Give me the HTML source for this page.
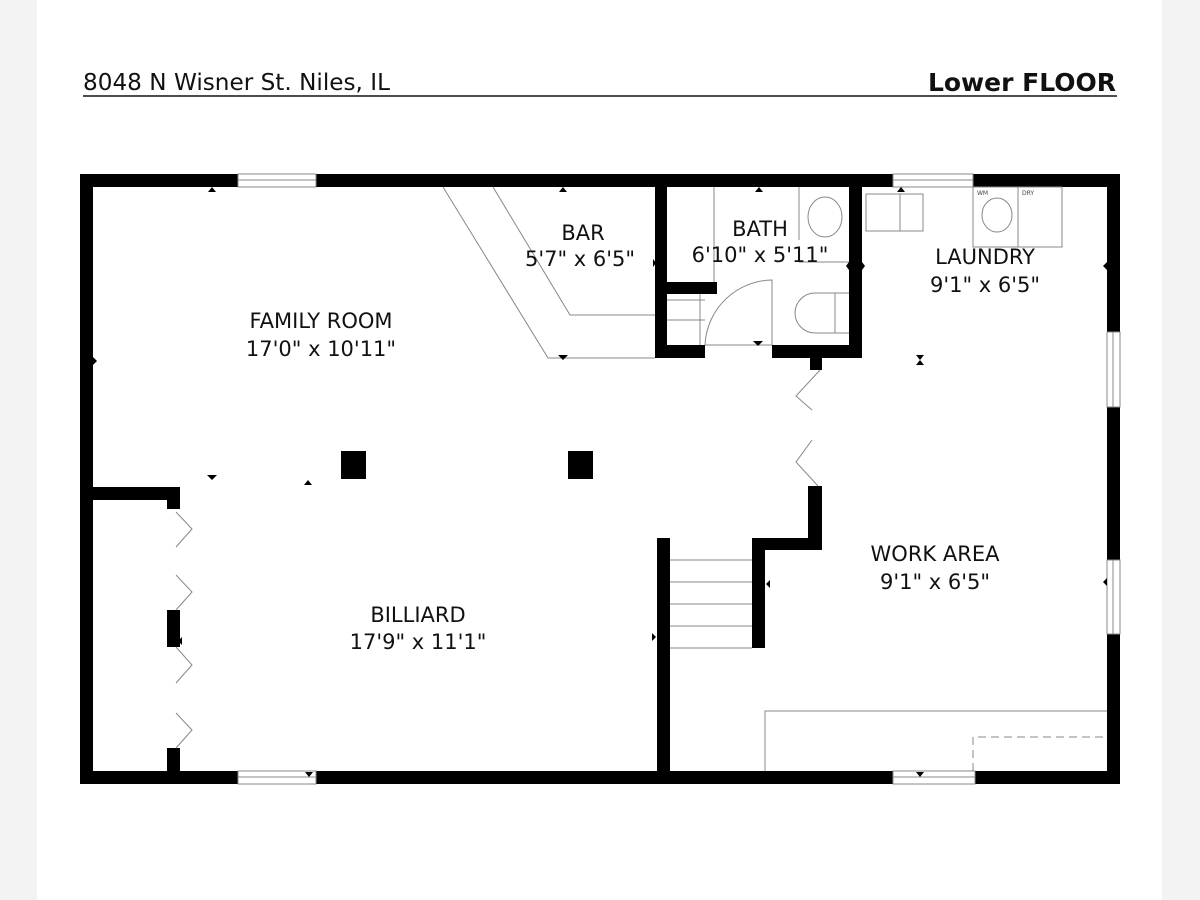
<!DOCTYPE html>
<html><head><style>
body{margin:0;background:#f3f3f3;}
.page{position:absolute;left:37px;top:0;width:1125px;height:900px;background:#fff;}
svg{position:absolute;left:0;top:0;}
text{font-family:"DejaVu Sans","Liberation Sans",sans-serif;}
</style></head><body>
<div class="page"></div>
<svg width="1200" height="900" viewBox="0 0 1200 900">
<text x="83" y="90" font-family="Liberation Sans" font-size="23" fill="#111" textLength="307" lengthAdjust="spacingAndGlyphs">8048 N Wisner St. Niles, IL</text>
<text x="1116" y="91" text-anchor="end" font-family="Liberation Sans" font-size="25" font-weight="bold" fill="#111">Lower FLOOR</text>
<line x1="83" y1="96" x2="1117" y2="96" stroke="#111" stroke-width="1.5"/>

<g fill="#000">
<rect x="80" y="174" width="1040" height="13"/>
<rect x="80" y="771" width="1040" height="13"/>
<rect x="80" y="174" width="13" height="610"/>
<rect x="1107" y="174" width="13" height="610"/>
<rect x="655" y="187" width="12" height="171"/>
<rect x="849" y="187" width="13" height="171"/>
<rect x="655" y="345" width="50" height="13"/>
<rect x="772" y="345" width="90" height="13"/>
<rect x="667" y="282" width="50" height="12"/>
<rect x="810" y="358" width="12" height="12"/>
<rect x="93" y="487" width="87" height="13"/>
<rect x="167" y="487" width="13" height="22"/>
<rect x="167" y="610" width="13" height="37"/>
<rect x="167" y="748" width="13" height="23"/>
<rect x="657" y="538" width="13" height="233"/>
<rect x="752" y="538" width="13" height="110"/>
<rect x="752" y="538" width="70" height="12"/>
<rect x="808" y="486" width="14" height="64"/>
<rect x="341" y="451" width="25" height="28"/>
<rect x="568" y="451" width="25" height="28"/>
</g>
<g fill="#fff" stroke="#888" stroke-width="1">
<rect x="238" y="174" width="78" height="13"/>
<rect x="893" y="174" width="80" height="13"/>
<rect x="238" y="771" width="78" height="13"/>
<rect x="893" y="771" width="82" height="13"/>
<rect x="1107" y="332" width="13" height="75"/>
<rect x="1107" y="560" width="13" height="74"/>
</g>
<g stroke="#888" stroke-width="1" fill="none">
<line x1="238" y1="180" x2="316" y2="180"/><line x1="893" y1="180" x2="973" y2="180"/>
<line x1="238" y1="777" x2="316" y2="777"/><line x1="893" y1="777" x2="975" y2="777"/>
<line x1="1113" y1="332" x2="1113" y2="407"/><line x1="1113" y1="560" x2="1113" y2="634"/>
<polyline points="443,187 548,358 655,358"/>
<polyline points="493,187 570,315 655,315"/>
<line x1="670" y1="560" x2="752" y2="560"/><line x1="670" y1="582" x2="752" y2="582"/>
<line x1="670" y1="604" x2="752" y2="604"/><line x1="670" y1="626" x2="752" y2="626"/>
<line x1="670" y1="648" x2="752" y2="648"/>
<polyline points="765,771 765,711 1107,711"/>
<polyline points="973,771 973,737 1107,737" stroke-dasharray="8,5"/>
<polyline points="176,512 192,529 176,547"/>
<polyline points="176,575 192,592 176,610"/>
<polyline points="176,647 192,665 176,683"/>
<polyline points="176,713 192,730 176,748"/>
<polyline points="820,370 796,396 812,410"/>
<polyline points="812,440 796,462 818,486"/>
<line x1="667" y1="300" x2="705" y2="300"/>
<line x1="667" y1="320" x2="705" y2="320"/>
<line x1="700" y1="294" x2="700" y2="345"/>
<line x1="714" y1="187" x2="714" y2="282"/>
<line x1="705" y1="345" x2="772" y2="345"/>
<path d="M705,345 A68,68 0 0 1 772,280 L772,345"/>
<line x1="799" y1="187" x2="799" y2="240"/>
<ellipse cx="825" cy="217" rx="17" ry="20"/>
<line x1="799" y1="262" x2="849" y2="262"/>
<path d="M849,293 L815,293 A20,20 0 0 0 815,333 L849,333"/>
<line x1="835" y1="293" x2="835" y2="333"/>
<rect x="866" y="194" width="57" height="37"/>
<line x1="900" y1="194" x2="900" y2="231"/>
<rect x="973" y="187" width="45" height="60"/>
<rect x="1018" y="187" width="44" height="60"/>
<ellipse cx="997" cy="215" rx="15" ry="17"/>
</g>
<g font-family="Liberation Sans" font-size="6" fill="#444"><text x="977" y="195">WM</text><text x="1022" y="195">DRY</text></g>
<g font-size="21" fill="#111" text-anchor="middle">
<text x="321" y="328">FAMILY ROOM</text><text x="321" y="356">17'0" x 10'11"</text>
<text x="583" y="240">BAR</text><text x="580" y="266">5'7" x 6'5"</text>
<text x="760" y="236">BATH</text><text x="760" y="262">6'10" x 5'11"</text>
<text x="985" y="264">LAUNDRY</text><text x="985" y="292">9'1" x 6'5"</text>
<text x="935" y="561">WORK AREA</text><text x="935" y="589">9'1" x 6'5"</text>
<text x="418" y="622">BILLIARD</text><text x="418" y="649">17'9" x 11'1"</text>
</g>
<g fill="#000">
<path d="M208,192 l4,-5 l4,5z"/><path d="M559,192 l4,-5 l4,5z"/><path d="M755,192 l4,-5 l4,5z"/><path d="M897,192 l4,-5 l4,5z"/>
<path d="M207,475 l5,5 l5,-5z"/><path d="M304,485 l4,-5 l4,5z"/>
<path d="M305,772 l4,5 l4,-5z"/><path d="M916,772 l4,5 l4,-5z"/>
<path d="M558,355 l5,5 l5,-5z"/><path d="M753,341 l5,5 l5,-5z"/>
<path d="M93,357 l4,4 l-4,4z"/><path d="M182,637 l-4,4 l4,4z"/>
<path d="M652,633 l4,4 l-4,4z"/><path d="M770,580 l-4,4 l4,4z"/>
<path d="M1107,262 l-4,4 l4,4z"/><path d="M1107,578 l-4,4 l4,4z"/>
<path d="M664,262 l-3,4 l3,4z"/><path d="M653,259 l3,4 l-3,4z"/>
<path d="M862,262 l3,4 l-3,4z"/><path d="M849,262 l-3,4 l3,4z"/>
<path d="M916,355 l8,0 l-4,5z M916,365 l8,0 l-4,-5z"/>
</g>
</svg>
</body></html>
